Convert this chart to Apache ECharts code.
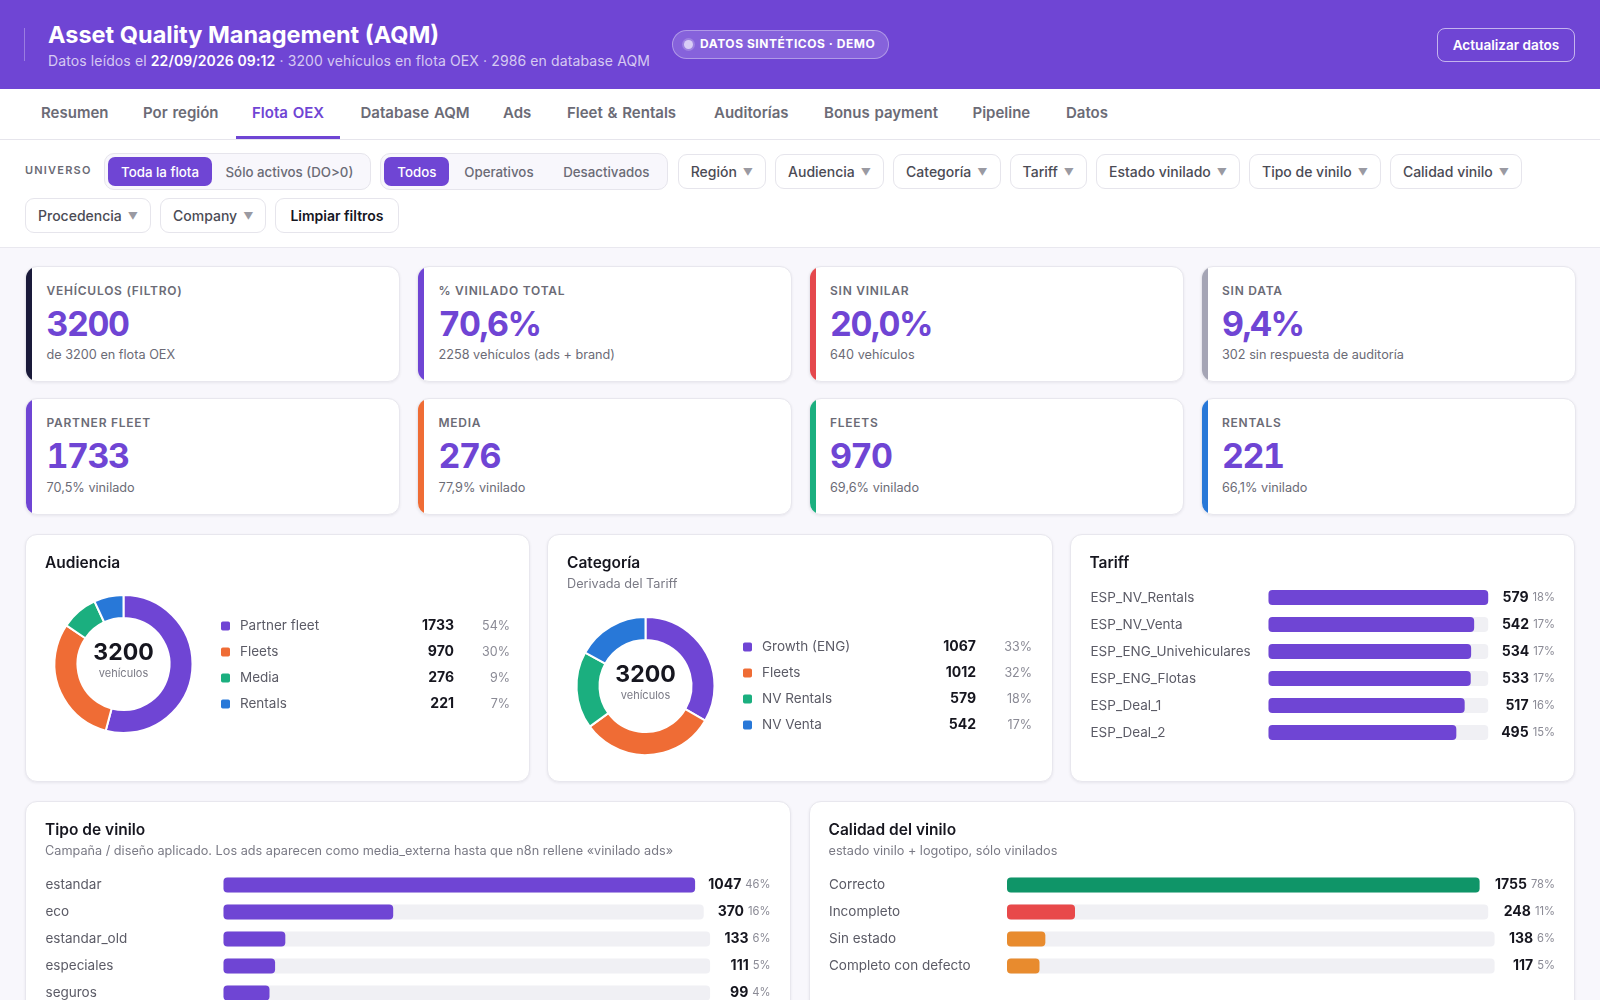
<!DOCTYPE html>
<html lang="es">
<head>
<meta charset="utf-8">
<title>Asset Quality Management (AQM)</title>
<script src="https://cdn.jsdelivr.net/npm/echarts@6/dist/echarts.min.js"></script>
<style>
  * { box-sizing: border-box; }
  html, body { margin: 0; width: 1600px; height: 1000px; overflow: hidden; background: #f8f7fc; font-family: Inter, "Noto Sans", sans-serif; color: #16161f; }
  .hdr { position: absolute; left: 0; top: 0; width: 1600px; height: 89px; background: #6f45d4; color: #fff; }
  .hdr .rule { position: absolute; left: 24px; top: 28px; width: 1px; height: 33px; background: rgba(255,255,255,.3); }
  .hdr h1 { position: absolute; left: 48px; top: 18.5px; margin: 0; font-size: 23.5px; line-height: 32px; font-weight: 700; white-space: nowrap; }
  .hdr .sub { position: absolute; left: 48px; top: 52px; font-size: 14px; line-height: 18px; letter-spacing: .12px; color: rgba(255,255,255,.72); white-space: nowrap; }
  .hdr .sub b { color: #fff; font-weight: 600; }
  .badge { position: absolute; left: 672px; top: 30px; width: 217px; height: 29px; border: 1px solid rgba(255,255,255,.35); background: rgba(255,255,255,.16); border-radius: 15px; font-size: 12px; line-height: 26px; font-weight: 700; letter-spacing: .55px; padding-left: 27px; white-space: nowrap; }
  .badge i { position: absolute; left: 11px; top: 9px; width: 9px; height: 9px; border-radius: 50%; background: #d9cdf6; box-shadow: 0 0 0 2px rgba(255,255,255,.2); }
  .refresh { position: absolute; left: 1437px; top: 28px; width: 138px; height: 34px; border: 1px solid rgba(255,255,255,.6); border-radius: 8px; font-size: 13.6px; line-height: 32px; font-weight: 600; text-align: center; }
  .tabs { position: absolute; left: 0; top: 89px; width: 1600px; height: 51px; background: #fff; border-bottom: 1px solid #e6e5ec; }
  .tabs div { position: absolute; top: 0; padding: 0 16px; height: 50px; line-height: 48px; font-size: 15px; font-weight: 600; word-spacing: 1px; color: #6b6b76; white-space: nowrap; }
  .tabs div.on { color: #6f45d4; border-bottom: 3px solid #6f45d4; }
  .filters { position: absolute; left: 0; top: 140px; width: 1600px; height: 108px; background: #fff; border-bottom: 1px solid #e9e8ef; }
  .frow { position: absolute; left: 25px; display: flex; align-items: center; white-space: nowrap; }
  .uni { font-size: 11px; font-weight: 600; letter-spacing: 1.2px; color: #6b6b76; width: 79px; margin-top: -3px; }
  .seg { display: flex; height: 37px; padding: 3px; background: #f8f7fc; border: 1px solid #e6e5ec; border-radius: 10px; margin-right: 9.5px; }
  .seg span { padding: 0 13.5px; line-height: 30px; font-size: 13.3px; font-weight: 500; color: #6b6b76; border-radius: 7px; }
  .seg span.wide { padding: 0 14.8px; }
  .seg span.on { background: #6f45d4; color: #fff; padding: 0 13px; }
  .dd { height: 35px; line-height: 33px; padding: 0 12px; background: #fff; border: 1px solid #e6e5ec; border-radius: 9px; font-size: 14px; font-weight: 500; color: #4b4b55; margin-right: 9px; }
  .dd em { font-style: normal; color: #9a9aa2; font-size: 10px; margin-left: 6px; position: relative; top: -1px; }
  .dd.clear { color: #16161f; font-weight: 600; padding: 0 14px; }
  .card { position: absolute; background: #fff; border: 1px solid #e8e7ee; border-radius: 12px; box-shadow: 0 1px 3px rgba(20,20,40,.07); overflow: hidden; }
  .kpi .bar { position: absolute; left: 0; top: 0; bottom: 0; width: 6px; }
  .kpi .lab { position: absolute; left: 20.5px; top: 16px; font-size: 12px; line-height: 16px; font-weight: 600; letter-spacing: .75px; color: #6b6b76; white-space: nowrap; }
  .kpi .val { position: absolute; left: 20.5px; top: 35px; font-size: 34px; line-height: 44px; font-weight: 700; letter-spacing: -1.5px; font-variant-numeric: tabular-nums; color: #6f45d4; white-space: nowrap; }
  .kpi .note { position: absolute; left: 20.5px; top: 79px; font-size: 12.7px; line-height: 18px; color: #6b6b76; white-space: nowrap; }
  .kpi.low .note { top: 80px; }
  .ct { position: absolute; left: 19px; top: 18px; font-size: 15.5px; line-height: 20px; font-weight: 600; color: #16161f; z-index: 2; }
  .cs { position: absolute; left: 19px; top: 40px; font-size: 12.7px; line-height: 18px; color: #7a7a85; z-index: 2; white-space: nowrap; }
  .ch { position: absolute; left: 0; top: 0; width: 100%; height: 100%; }
</style>
</head>
<body>
<div class="hdr">
  <div class="rule"></div>
  <h1>Asset Quality Management (AQM)</h1>
  <div class="sub">Datos leídos el <b>22/09/2026 09:12</b> · 3200 vehículos en flota OEX · 2986 en database AQM</div>
  <div class="badge"><i></i>DATOS SINTÉTICOS · DEMO</div>
  <div class="refresh">Actualizar datos</div>
</div>
<div class="tabs" id="tabs"></div>
<div class="filters">
  <div class="frow" id="row1" style="top:13px"></div>
  <div class="frow" id="row2" style="top:58px"></div>
</div>
<div id="kpis"></div>

<div class="card" style="left:25px;top:534px;width:505px;height:248px">
  <div class="ct">Audiencia</div><div class="ch" id="audChart"></div>
</div>
<div class="card" style="left:547px;top:534px;width:506px;height:248px">
  <div class="ct">Categoría</div><div class="cs">Derivada del Tariff</div><div class="ch" id="catChart"></div>
</div>
<div class="card" style="left:1069.5px;top:534px;width:505.5px;height:248px">
  <div class="ct">Tariff</div><div class="ch" id="tarChart"></div>
</div>
<div class="card" style="left:25px;top:801px;width:766px;height:260px">
  <div class="ct">Tipo de vinilo</div><div class="cs">Campaña / diseño aplicado. Los ads aparecen como media_externa hasta que n8n rellene «vinilado ads»</div><div class="ch" id="tipoChart"></div>
</div>
<div class="card" style="left:808.5px;top:801px;width:766.5px;height:260px">
  <div class="ct">Calidad del vinilo</div><div class="cs">estado vinilo + logotipo, sólo vinilados</div><div class="ch" id="calChart"></div>
</div>

<script type="text/javascript">
    const PURPLE = '#6f45d4', ORANGE = '#ef6c35', GREEN = '#1baf7f', BLUE = '#2878d8';

    // page text
    const tabNames = ['Resumen', 'Por región', 'Flota OEX', 'Database AQM', 'Ads', 'Fleet & Rentals', 'Auditorías', 'Bonus payment', 'Pipeline', 'Datos'];
    const filters1 = ['Región', 'Audiencia', 'Categoría', 'Tariff', 'Estado vinilado', 'Tipo de vinilo', 'Calidad vinilo'];
    const filters2 = ['Procedencia', 'Company'];

    // KPI cards
    const kpiLabels = ['VEHÍCULOS (FILTRO)', '% VINILADO TOTAL', 'SIN VINILAR', 'SIN DATA', 'PARTNER FLEET', 'MEDIA', 'FLEETS', 'RENTALS'];
    const kpiValues = ['3200', '70,6%', '20,0%', '9,4%', '1733', '276', '970', '221'];
    const kpiNotes = ['de 3200 en flota OEX', '2258 vehículos (ads + brand)', '640 vehículos', '302 sin respuesta de auditoría', '70,5% vinilado', '77,9% vinilado', '69,6% vinilado', '66,1% vinilado'];
    const kpiColors = ['#1a1a3a', PURPLE, '#e5484d', '#a5a5b5', PURPLE, ORANGE, GREEN, BLUE];

    // donuts
    const audNames = ['Partner fleet', 'Fleets', 'Media', 'Rentals'];
    const audValues = [1733, 970, 276, 221];
    const audPcts = [54, 30, 9, 7];
    const catNames = ['Growth (ENG)', 'Fleets', 'NV Rentals', 'NV Venta'];
    const catValues = [1067, 1012, 579, 542];
    const catPcts = [33, 32, 18, 17];
    const donutColors = [PURPLE, ORANGE, GREEN, BLUE];

    // bar lists
    const tarNames = ['ESP_NV_Rentals', 'ESP_NV_Venta', 'ESP_ENG_Univehiculares', 'ESP_ENG_Flotas', 'ESP_Deal_1', 'ESP_Deal_2'];
    const tarValues = [579, 542, 534, 533, 517, 495];
    const tarPcts = [18, 17, 17, 17, 16, 15];
    const tipoNames = ['estandar', 'eco', 'estandar_old', 'especiales', 'seguros'];
    const tipoValues = [1047, 370, 133, 111, 99];
    const tipoPcts = [46, 16, 6, 5, 4];
    const calNames = ['Correcto', 'Incompleto', 'Sin estado', 'Completo con defecto'];
    const calValues = [1755, 248, 138, 117];
    const calPcts = [78, 11, 6, 5];
    const calColors = ['#0f9568', '#e8494a', '#e88b2e', '#e88b2e'];

    // cabecera, filtros y KPIs
    const tabLeft = [25, 127, 236, 344.5, 487, 551, 698, 808, 956.5, 1050];
    document.getElementById('tabs').innerHTML = tabNames.map(function (t, i) {
        return '<div style="left:' + tabLeft[i] + 'px"' + (t === 'Flota OEX' ? ' class="on"' : '') + '>' + t.replace('&', '&amp;') + '</div>';
    }).join('');
    function dd(t) { return '<div class="dd">' + t + '<em>▼</em></div>'; }
    document.getElementById('row1').innerHTML =
        '<div class="uni">UNIVERSO</div>' +
        '<div class="seg"><span class="on">Toda la flota</span><span>Sólo activos (DO&gt;0)</span></div>' +
        '<div class="seg"><span class="on">Todos</span><span class="wide">Operativos</span><span class="wide">Desactivados</span></div>' +
        filters1.map(dd).join('');
    document.getElementById('row2').innerHTML = filters2.map(dd).join('') + '<div class="dd clear">Limpiar filtros</div>';

    const kpiLeft = [25, 417, 808.5, 1200.5], kpiTop = [266, 398];
    document.getElementById('kpis').innerHTML = kpiLabels.map(function (l, i) {
        const x = kpiLeft[i % 4], y = kpiTop[Math.floor(i / 4)];
        return '<div class="card kpi' + (i < 4 ? '' : ' low') + '" style="left:' + x + 'px;top:' + y + 'px;width:375px;height:' + (i < 4 ? 116 : 117) + 'px">' +
            '<div class="bar" style="background:' + kpiColors[i] + '"></div>' +
            '<div class="lab">' + l + '</div><div class="val">' + kpiValues[i] + '</div><div class="note">' + kpiNotes[i] + '</div></div>';
    }).join('');

    function donut(id, names, values, pcts, cx, cy, legendLeft, legendTop, nameW) {
        const chart = echarts.init(document.getElementById(id));
        chart.setOption({
            animation: false,
            title: {
                text: '3200', subtext: 'vehículos', left: cx, top: cy - 25, textAlign: 'center', itemGap: 0, padding: 0,
                textStyle: { fontFamily: 'Inter', fontSize: 23, fontWeight: 700, color: '#16161f', lineHeight: 28 },
                subtextStyle: { fontFamily: 'Inter', fontSize: 11, color: '#7a7a85', lineHeight: 14 }
            },
            legend: {
                orient: 'vertical', left: legendLeft, top: legendTop, icon: 'roundRect', itemWidth: 11, itemHeight: 11,
                itemGap: 10, selectedMode: false, padding: 0,
                formatter: function (n) {
                    const i = names.indexOf(n);
                    return '{n|' + n + '}{v|' + values[i] + '}{p|' + pcts[i] + '%}';
                },
                textStyle: {
                    fontFamily: 'Inter',
                    rich: {
                        n: { width: nameW, padding: [0, 0, 0, 4], fontFamily: 'Inter', fontSize: 13.5, lineHeight: 16, height: 16, color: '#5b5b66' },
                        v: { width: 60, align: 'right', fontFamily: 'Inter', fontSize: 14, lineHeight: 16, height: 16, fontWeight: 700, color: '#16161f' },
                        p: { width: 56, align: 'right', fontFamily: 'Inter', fontSize: 12.5, lineHeight: 16, height: 16, color: '#8a8a95' }
                    }
                },
                data: names
            },
            color: donutColors,
            series: [{
                type: 'pie', radius: [46, 69], center: [cx, cy], startAngle: 90, label: { show: false }, silent: true,
                itemStyle: { borderColor: '#fff', borderWidth: 2 },
                data: names.map(function (n, i) { return { name: n, value: values[i] }; })
            }]
        });
    }

    // una grid por fila: la pista termina donde empieza la etiqueta de su fila
    function barList(id, names, values, pcts, colors, labelLeft, barLeft, textRight, firstY) {
        const el = document.getElementById(id);
        const chart = echarts.init(el);
        const maxV = Math.max.apply(null, values);
        const grid = [], xAxis = [], yAxis = [], series = [];
        values.forEach(function (v, i) {
            // el original usa cifras tabulares y la columna de valor tiene al menos 3 cifras
            const digits = Math.max(String(v).length, 3);
            const lw = digits * 8.6 + 5.6 + (String(pcts[i]).length * 6.4 + 9.6);
            const gridRight = textRight - lw - 13;
            grid.push({ left: barLeft, width: gridRight - barLeft, top: firstY + i * 27 - 7.5, height: 15 });
            xAxis.push({ type: 'value', gridIndex: i, min: 0, max: maxV, show: false });
            yAxis.push({
                type: 'category', gridIndex: i, data: [names[i]], axisLine: { show: false }, axisTick: { show: false },
                axisLabel: { align: 'left', margin: barLeft - labelLeft, fontFamily: 'Inter', fontSize: 13.5, color: '#5b5b66' }
            });
            yAxis.push({
                type: 'category', gridIndex: i, position: 'right', data: [v + '|' + pcts[i]], axisLine: { show: false }, axisTick: { show: false },
                axisLabel: {
                    align: 'right', margin: textRight - gridRight,
                    formatter: function (s) { const p = s.split('|'); return '{v|' + p[0] + '}{p|' + p[1] + '%}'; },
                    rich: {
                        v: { fontFamily: 'Inter', fontSize: 14, fontWeight: 700, color: '#16161f' },
                        p: { fontFamily: 'Inter', fontSize: 11.2, color: '#8a8a95', padding: [0, 0, 0, 4] }
                    }
                }
            });
            series.push({
                type: 'bar', xAxisIndex: i, yAxisIndex: i * 2, data: [v], barWidth: 15, silent: true,
                showBackground: true, backgroundStyle: { color: '#f0f0f4', borderRadius: 4 },
                itemStyle: { color: colors[i], borderRadius: 4 }
            });
        });
        chart.setOption({ animation: false, grid: grid, xAxis: xAxis, yAxis: yAxis, series: series });
    }

    const same = function (arr) { return arr.map(function () { return PURPLE; }); };
    donut('audChart', audNames, audValues, audPcts, 97.5, 129, 193, 83, 154);
    donut('catChart', catNames, catValues, catPcts, 97.5, 151, 193, 104, 154);
    barList('tarChart', tarNames, tarValues, tarPcts, same(tarValues), 19.5, 197.5, 484, 62.5);
    barList('tipoChart', tipoNames, tipoValues, tipoPcts, same(tipoValues), 19.5, 197.5, 744.5, 83);
    barList('calChart', calNames, calValues, calPcts, calColors, 19, 197, 745, 83);
</script>
</body>
</html>
